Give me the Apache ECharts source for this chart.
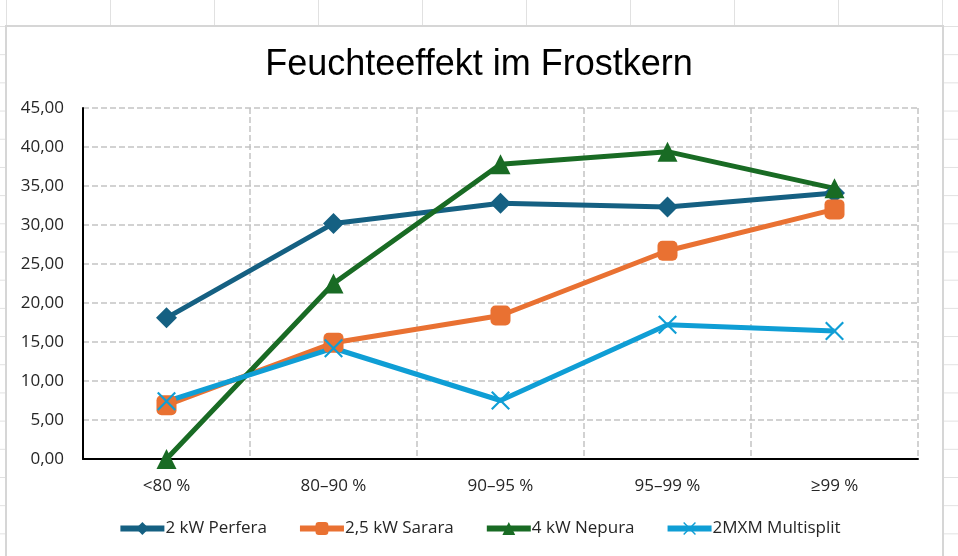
<!DOCTYPE html>
<html>
<head>
<meta charset="utf-8">
<script src="https://cdn.jsdelivr.net/npm/echarts@6/dist/echarts.min.js"></script>
<style>
  html, body { margin: 0; padding: 0; }
  body {
    width: 958px; height: 556px; overflow: hidden; position: relative;
    background-color: #fff;
    background-image:
      linear-gradient(to right, #e1e1e1 1px, transparent 1px),
      linear-gradient(to bottom, #e1e1e1 1px, transparent 1px);
    background-size: 104px 28.2px;
    background-position: 6px 26px;
  }
  #frame {
    position: absolute; left: 5px; top: 25px; width: 935px; height: 560px;
    background: #fff; border: 2px solid #d6d6d6;
  }
  #main { position: absolute; left: 0; top: 0; width: 958px; height: 556px; }
</style>
</head>
<body>
<div id="frame"></div>
<div id="main"></div>
<script>
'use strict';
// Daten
var categories = ['<80 %', '80–90 %', '90–95 %', '95–99 %', '≥99 %'];
var perfera = [18.1, 30.2, 32.8, 32.3, 34.1];
var sarara = [6.9, 14.9, 18.4, 26.7, 32.0];
var nepura = [0.0, 22.5, 37.8, 39.4, 34.7];
var multisplit = [7.4, 14.2, 7.5, 17.2, 16.4];
var seriesNames = ['2 kW Perfera', '2,5 kW Sarara', '4 kW Nepura', '2MXM Multisplit'];

var crossPath = 'path://M0,1.6 L1.6,0 L10,8.4 L18.4,0 L20,1.6 L11.6,10 L20,18.4 L18.4,20 L10,11.6 L1.6,20 L0,18.4 L8.4,10 Z';

function lineSeries(name, data, color, symbol, size) {
    return {
        name: name,
        type: 'line',
        data: data,
        symbol: symbol,
        symbolSize: size,
        lineStyle: { width: 5, color: color },
        itemStyle: { color: color },
        emphasis: { disabled: true }
    };
}

var myChart = echarts.init(document.getElementById('main'));
var option = {
    animation: false,
    title: {
        text: 'Feuchteeffekt im Frostkern',
        left: 'center',
        top: 42,
        textStyle: {
            fontFamily: 'Liberation Sans',
            fontSize: 36,
            fontWeight: 'normal',
            color: '#000'
        }
    },
    legend: {
        bottom: 14,
        left: 'center',
        itemWidth: 44,
        itemHeight: 16,
        itemGap: 30,
        data: seriesNames,
        lineStyle: { width: 6 },
        textStyle: { fontFamily: 'Open Sans', fontSize: 17, color: '#262626', padding: [0, 0, 0, -4] }
    },
    grid: { left: 83, right: 40, top: 108, bottom: 97, containLabel: false },
    xAxis: {
        type: 'category',
        data: categories,
        boundaryGap: true,
        axisLine: { lineStyle: { color: '#000', width: 2 } },
        axisTick: { show: false },
        axisLabel: { margin: 19, fontFamily: 'Open Sans', fontSize: 17, color: '#262626' },
        splitLine: { show: true, lineStyle: { type: 'dashed', color: '#c4c4c4', width: 1.5 } }
    },
    yAxis: {
        type: 'value',
        min: 0,
        max: 45,
        interval: 5,
        axisLine: { show: true, lineStyle: { color: '#000', width: 2 } },
        axisTick: { show: false },
        axisLabel: {
            margin: 19,
            fontFamily: 'Open Sans',
            fontSize: 17,
            color: '#262626',
            formatter: function (v) { return v.toFixed(2).replace('.', ','); }
        },
        splitLine: { lineStyle: { type: 'dashed', color: '#c4c4c4', width: 1.5 } }
    },
    series: [
        lineSeries(seriesNames[0], perfera, '#156082', 'diamond', 21),
        lineSeries(seriesNames[1], sarara, '#E97132', 'roundRect', 20),
        lineSeries(seriesNames[2], nepura, '#196B24', 'triangle', 20),
        lineSeries(seriesNames[3], multisplit, '#0F9ED5', crossPath, 19)
    ]
};
myChart.setOption(option);
</script>
</body>
</html>
